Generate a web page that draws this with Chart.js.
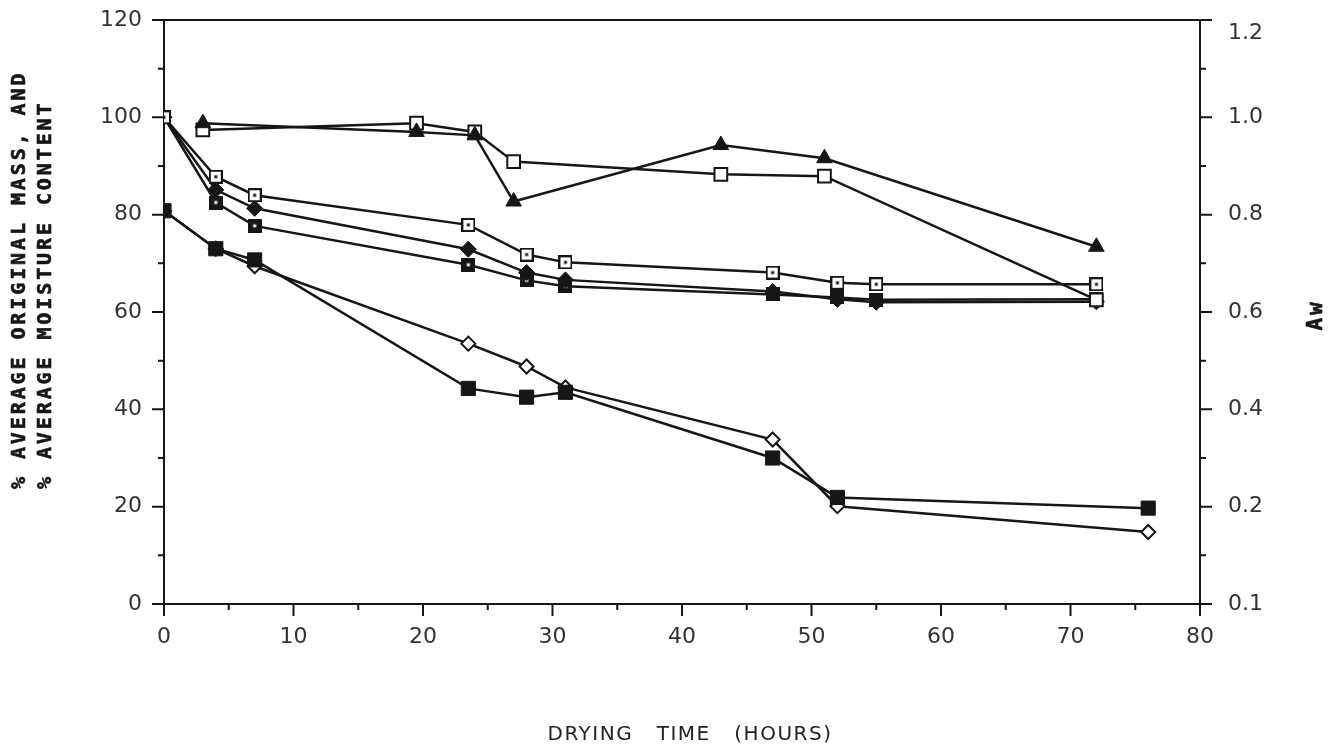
<!DOCTYPE html>
<html lang="en">
<head>
<meta charset="UTF-8">
<title>Drying time</title>
<script src="https://cdn.jsdelivr.net/npm/chart.js"></script>
<style>
  html, body { margin: 0; background: #fff; }
  canvas { display: block; }
</style>
</head>
<body>
<canvas id="dryChart" width="1337" height="748"></canvas>
<script>
// values (hours on x)
const hoursA = [3, 19.5, 24, 27, 43, 51, 72];
const awTriangles = [0.988, 0.970, 0.963, 0.827, 0.943, 0.916, 0.734];
const awSquares = [0.974, 0.988, 0.970, 0.909, 0.883, 0.879, 0.625];

const hoursB = [0, 4, 7, 23.5, 28, 31, 47, 52, 55, 72];
const massDotOpen = [100, 87.8, 84.0, 77.9, 71.8, 70.2, 68.1, 66.0, 65.7, 65.7];
const massDiamond = [100, 85.1, 81.3, 72.9, 68.1, 66.6, 64.2, 62.6, 62.0, 62.1];
const massDotFilled = [100, 82.5, 77.7, 69.7, 66.5, 65.3, 63.6, 63.0, 62.5, 62.6];

const hoursC = [0, 4, 7, 23.5, 28, 31, 47, 52, 76];
const moistSquare = [80.8, 73.0, 70.7, 44.3, 42.5, 43.5, 30.0, 21.9, 19.7];
const moistDiamond = [80.8, 73.0, 69.4, 53.5, 48.8, 44.5, 33.8, 20.1, 14.8];

// right axis labels, one per 0.1 step (as printed on the original)
const awTickLabels = ['0.1', '', '0.2', '', '0.4', '', '0.6', '', '0.8', '', '1.0', '', '1.2'];

const yTitle = ['% AVERAGE ORIGINAL MASS, AND', '% AVERAGE MOISTURE CONTENT'];
const awTitle = 'Aw';
const xTitle = 'DRYING   TIME   (HOURS)';

const INK = '#161616';

// small square markers with a dot in the middle
function squareMark(size, filled) {
    const c = document.createElement('canvas');
    c.width = c.height = size;
    const g = c.getContext('2d');
    g.fillStyle = filled ? INK : '#fff';
    g.fillRect(0, 0, size, size);
    g.strokeStyle = INK;
    g.lineWidth = 2;
    g.strokeRect(1, 1, size - 2, size - 2);
    g.fillStyle = filled ? '#fff' : INK;
    g.fillRect((size - 3) / 2, (size - 3) / 2, 3, 3);
    return c;
}

function pts(xs, ys) {
    return xs.map((x, i) => ({ x: x, y: ys[i] }));
}

function series(label, xs, ys, axis, marker) {
    return Object.assign({
        label: label,
        data: pts(xs, ys),
        yAxisID: axis,
        borderColor: INK,
        borderWidth: 2.5,
        tension: 0,
        pointBorderColor: INK,
        pointBorderWidth: 2
    }, marker);
}

// ticks of two lengths, top edge and the axis titles
const frame = {
    id: 'frame',
    afterDraw(chart) {
        const { ctx, chartArea: a, scales } = chart;
        ctx.save();
        ctx.strokeStyle = INK;
        ctx.lineWidth = 2;
        ctx.beginPath();
        ctx.moveTo(a.left - 1, a.top);
        ctx.lineTo(a.right + 4, a.top);
        scales.x.ticks.forEach(t => {
            const px = scales.x.getPixelForValue(t.value);
            const len = t.value % 10 === 0 ? 12 : 6;
            ctx.moveTo(px, a.bottom);
            ctx.lineTo(px, a.bottom + len);
        });
        scales.y.ticks.forEach(t => {
            const py = scales.y.getPixelForValue(t.value);
            const len = t.value % 20 === 0 ? 12 : 6;
            ctx.moveTo(a.left, py);
            ctx.lineTo(a.left - len, py);
        });
        scales.y2.ticks.forEach(t => {
            const py = scales.y2.getPixelForValue(t.value);
            const len = awTickLabels[Math.round(t.value * 10)] ? 12 : 6;
            ctx.moveTo(a.right, py);
            ctx.lineTo(a.right + len, py);
        });
        ctx.stroke();

        ctx.fillStyle = INK;
        ctx.strokeStyle = INK;
        ctx.lineWidth = 0.6;
        ctx.textBaseline = 'middle';
        ctx.font = 'bold 20px "DejaVu Sans Mono"';
        ctx.letterSpacing = '2.9px';
        ctx.textAlign = 'left';
        [20, 46].forEach((x, i) => {
            ctx.save();
            ctx.translate(x, 489);
            ctx.rotate(-Math.PI / 2);
            ctx.fillText(yTitle[i], 0, 0);
            ctx.strokeText(yTitle[i], 0, 0);
            ctx.restore();
        });

        ctx.font = 'bold 21px "DejaVu Sans Mono"';
        ctx.textAlign = 'center';
        ctx.save();
        ctx.translate(1317, 315);
        ctx.rotate(-Math.PI / 2);
        ctx.fillText(awTitle, 0, 0);
        ctx.strokeText(awTitle, 0, 0);
        ctx.restore();

        ctx.font = '20px "DejaVu Sans"';
        ctx.letterSpacing = '1.5px';
        ctx.fillStyle = '#222';
        ctx.fillText(xTitle, 690, 735);
        ctx.restore();
    }
};

const tickFont = { family: 'DejaVu Sans', size: 22 };
const axisGrid = { display: true, drawOnChartArea: false, drawTicks: true, tickLength: 12, tickColor: 'rgba(0,0,0,0)' };
const axisBorder = { display: true, color: INK, width: 2 };

// keep the plot box fixed: no extra padding for overhanging labels
function fixVertical(width) {
    return s => { s.width = width; s.paddingTop = 0; s.paddingBottom = 0; };
}

new Chart(document.getElementById('dryChart'), {
    type: 'line',
    data: {
        datasets: [
            series('Aw (triangles)', hoursA, awTriangles, 'y2',
                { pointStyle: 'triangle', pointRadius: 9, pointBackgroundColor: INK, pointBorderWidth: 1 }),
            series('Aw (squares)', hoursA, awSquares, 'y2',
                { pointStyle: 'rect', pointRadius: 9, pointBackgroundColor: '#fff' }),
            series('Mass (dotted open squares)', hoursB, massDotOpen, 'y',
                { pointStyle: squareMark(14, false), pointRadius: 7 }),
            series('Mass (diamonds)', hoursB, massDiamond, 'y',
                { pointStyle: 'rectRot', pointRadius: 8, pointBackgroundColor: INK, pointBorderWidth: 1 }),
            series('Mass (dotted filled squares)', hoursB, massDotFilled, 'y',
                { pointStyle: squareMark(14, true), pointRadius: 7 }),
            series('Moisture (filled squares)', hoursC, moistSquare, 'y',
                { pointStyle: 'rect', pointRadius: 10, pointBackgroundColor: INK, pointBorderWidth: 1 }),
            series('Moisture (open diamonds)', hoursC, moistDiamond, 'y',
                { pointStyle: 'rectRot', pointRadius: 7, pointBackgroundColor: '#fff' })
        ]
    },
    options: {
        responsive: false,
        animation: false,
        devicePixelRatio: 1,
        layout: { padding: { top: 20, left: 0, right: 0, bottom: 0 } },
        plugins: { legend: { display: false }, tooltip: { enabled: false } },
        scales: {
            x: {
                type: 'linear',
                min: 0,
                max: 80,
                grid: axisGrid,
                border: axisBorder,
                afterFit: s => { s.height = 144; s.paddingLeft = 0; s.paddingRight = 0; },
                ticks: {
                    stepSize: 5,
                    autoSkip: false,
                    maxRotation: 0,
                    padding: 8,
                    color: '#333',
                    font: tickFont,
                    callback: v => (v % 10 === 0 ? v : '')
                }
            },
            y: {
                position: 'left',
                min: 0,
                max: 120,
                grid: axisGrid,
                border: axisBorder,
                afterFit: fixVertical(164),
                ticks: {
                    stepSize: 10,
                    autoSkip: false,
                    padding: 10,
                    color: '#333',
                    font: tickFont,
                    callback: v => (v % 20 === 0 ? v : '')
                }
            },
            y2: {
                position: 'right',
                min: 0,
                max: 1.2,
                grid: axisGrid,
                border: axisBorder,
                afterFit: fixVertical(137),
                ticks: {
                    stepSize: 0.1,
                    autoSkip: false,
                    padding: 16,
                    color: '#333',
                    font: tickFont,
                    callback: v => {
                        const k = Math.round(v * 10);
                        const lbl = awTickLabels[k] || '';
                        return k === 12 ? ['', lbl] : lbl;
                    }
                }
            }
        }
    },
    plugins: [frame]
});
</script>
</body>
</html>
